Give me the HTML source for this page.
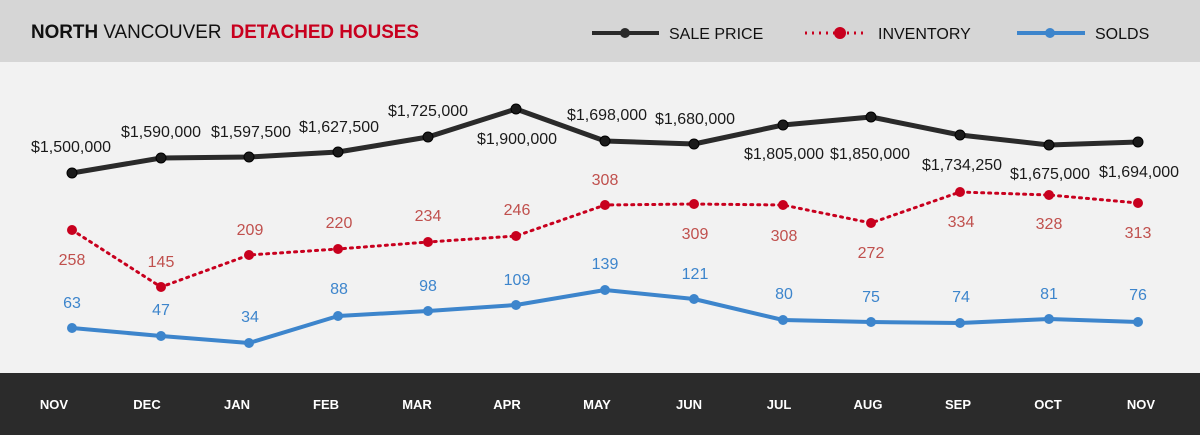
<!DOCTYPE html>
<html><head><meta charset="utf-8"><style>
body{margin:0;width:1200px;height:435px;overflow:hidden;font-family:"Liberation Sans",sans-serif}
</style></head><body>
<svg width="1200" height="435" xmlns="http://www.w3.org/2000/svg" font-family="Liberation Sans, sans-serif">
<rect x="0" y="0" width="1200" height="62" fill="#d6d6d6"/>
<rect x="0" y="62" width="1200" height="311" fill="#f2f2f2"/>
<rect x="0" y="373" width="1200" height="62" fill="#2b2b2b"/>
<text x="31" y="38" font-size="19.5" fill="#111" textLength="388" lengthAdjust="spacingAndGlyphs"><tspan font-weight="bold">NORTH</tspan> VANCOUVER <tspan dx="4" font-weight="bold" fill="#c8001e">DETACHED HOUSES</tspan></text>
<g font-size="16" fill="#111">
<line x1="592" y1="33" x2="659" y2="33" stroke="#2a2a2a" stroke-width="4"/><circle cx="625" cy="33" r="5" fill="#2a2a2a"/>
<text x="669" y="39">SALE PRICE</text>
<line x1="805" y1="33" x2="867" y2="33" stroke="#c8001e" stroke-width="3" stroke-dasharray="2,5"/><circle cx="840" cy="33" r="6" fill="#c8001e"/>
<text x="878" y="39">INVENTORY</text>
<line x1="1017" y1="33" x2="1085" y2="33" stroke="#3d85cc" stroke-width="4"/><circle cx="1050" cy="33" r="5" fill="#3d85cc"/>
<text x="1095" y="39">SOLDS</text>
</g>
<polyline fill="none" stroke="#2a2a2a" stroke-width="5" stroke-linejoin="round" points="72,173 161,158 249,157 338,152 428,137 516,109 605,141 694,144 783,125 871,117 960,135 1049,145 1138,142"/>
<g fill="#1a1a1a" stroke="#000" stroke-width="1">
<circle cx="72" cy="173" r="5"/><circle cx="161" cy="158" r="5"/><circle cx="249" cy="157" r="5"/><circle cx="338" cy="152" r="5"/><circle cx="428" cy="137" r="5"/><circle cx="516" cy="109" r="5"/><circle cx="605" cy="141" r="5"/><circle cx="694" cy="144" r="5"/><circle cx="783" cy="125" r="5"/><circle cx="871" cy="117" r="5"/><circle cx="960" cy="135" r="5"/><circle cx="1049" cy="145" r="5"/><circle cx="1138" cy="142" r="5"/></g>
<g font-size="16" fill="#1a1a1a" text-anchor="middle">
<text x="71" y="152">$1,500,000</text><text x="161" y="137">$1,590,000</text><text x="251" y="137">$1,597,500</text><text x="339" y="132">$1,627,500</text><text x="428" y="116">$1,725,000</text><text x="517" y="144">$1,900,000</text><text x="607" y="120">$1,698,000</text><text x="695" y="124">$1,680,000</text><text x="784" y="159">$1,805,000</text><text x="870" y="159">$1,850,000</text><text x="962" y="170">$1,734,250</text><text x="1050" y="179">$1,675,000</text><text x="1139" y="177">$1,694,000</text>
</g>
<polyline fill="none" stroke="#c8001e" stroke-width="3" stroke-dasharray="2,5" stroke-linecap="round" points="72,230 161,287 249,255 338,249 428,242 516,236 605,205 694,204 783,205 871,223 960,192 1049,195 1138,203"/>
<g fill="#c8001e"><circle cx="72" cy="230" r="5"/><circle cx="161" cy="287" r="5"/><circle cx="249" cy="255" r="5"/><circle cx="338" cy="249" r="5"/><circle cx="428" cy="242" r="5"/><circle cx="516" cy="236" r="5"/><circle cx="605" cy="205" r="5"/><circle cx="694" cy="204" r="5"/><circle cx="783" cy="205" r="5"/><circle cx="871" cy="223" r="5"/><circle cx="960" cy="192" r="5"/><circle cx="1049" cy="195" r="5"/><circle cx="1138" cy="203" r="5"/></g>
<g font-size="16" fill="#c0504d" text-anchor="middle">
<text x="72" y="265">258</text><text x="161" y="267">145</text><text x="250" y="235">209</text><text x="339" y="228">220</text><text x="428" y="221">234</text><text x="517" y="215">246</text><text x="605" y="185">308</text><text x="695" y="239">309</text><text x="784" y="241">308</text><text x="871" y="258">272</text><text x="961" y="227">334</text><text x="1049" y="229">328</text><text x="1138" y="238">313</text>
</g>
<polyline fill="none" stroke="#3d85cc" stroke-width="4" stroke-linejoin="round" points="72,328 161,336 249,343 338,316 428,311 516,305 605,290 694,299 783,320 871,322 960,323 1049,319 1138,322"/>
<g fill="#3d85cc"><circle cx="72" cy="328" r="5"/><circle cx="161" cy="336" r="5"/><circle cx="249" cy="343" r="5"/><circle cx="338" cy="316" r="5"/><circle cx="428" cy="311" r="5"/><circle cx="516" cy="305" r="5"/><circle cx="605" cy="290" r="5"/><circle cx="694" cy="299" r="5"/><circle cx="783" cy="320" r="5"/><circle cx="871" cy="322" r="5"/><circle cx="960" cy="323" r="5"/><circle cx="1049" cy="319" r="5"/><circle cx="1138" cy="322" r="5"/></g>
<g font-size="16" fill="#3d85cc" text-anchor="middle">
<text x="72" y="308">63</text><text x="161" y="315">47</text><text x="250" y="322">34</text><text x="339" y="294">88</text><text x="428" y="291">98</text><text x="517" y="285">109</text><text x="605" y="269">139</text><text x="695" y="279">121</text><text x="784" y="299">80</text><text x="871" y="302">75</text><text x="961" y="302">74</text><text x="1049" y="299">81</text><text x="1138" y="300">76</text>
</g>
<g font-size="13" font-weight="bold" fill="#fff" text-anchor="middle">
<text x="54" y="409">NOV</text><text x="147" y="409">DEC</text><text x="237" y="409">JAN</text><text x="326" y="409">FEB</text><text x="417" y="409">MAR</text><text x="507" y="409">APR</text><text x="597" y="409">MAY</text><text x="689" y="409">JUN</text><text x="779" y="409">JUL</text><text x="868" y="409">AUG</text><text x="958" y="409">SEP</text><text x="1048" y="409">OCT</text><text x="1141" y="409">NOV</text>
</g>
</svg>
</body></html>
